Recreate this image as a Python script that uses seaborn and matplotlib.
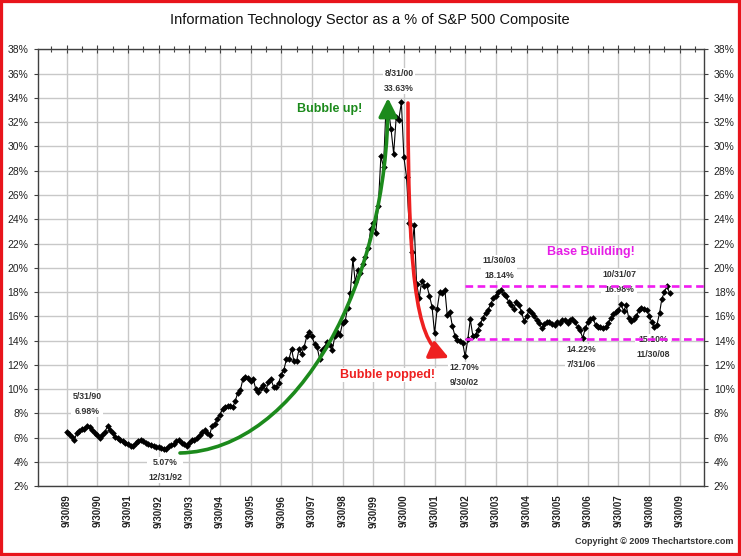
import pandas as pd
import matplotlib.pyplot as plt
import matplotlib.dates as mdates
from matplotlib.patches import FancyArrowPatch, Rectangle
from matplotlib.path import Path
import seaborn as sns

# IT sector weight in the S&P 500 (%), month ends from 9/30/89 to 5/31/09
it_weight = [
    6.5, 6.3, 6.05, 5.85, 6.4, 6.55, 6.7, 6.75, 6.98, 6.85, 6.6, 6.4,
    6.2, 5.95, 6.25, 6.5, 6.95, 6.6, 6.4, 6.05, 5.95, 5.85, 5.7, 5.6,
    5.45, 5.3, 5.35, 5.55, 5.75, 5.85, 5.7, 5.55, 5.45, 5.4, 5.35, 5.25,
    5.2, 5.15, 5.1, 5.07, 5.3, 5.4, 5.5, 5.7, 5.8, 5.6, 5.5, 5.35,
    5.55, 5.8, 5.85, 5.95, 6.2, 6.5, 6.6, 6.35, 6.25, 7.0, 7.1, 7.55,
    7.9, 8.35, 8.55, 8.6, 8.65, 8.5, 9.0, 9.7, 9.9, 10.8, 11.0, 10.9,
    10.65, 10.85, 10.05, 9.75, 10.1, 10.35, 9.9, 10.6, 10.8, 10.2, 10.2, 10.55,
    11.2, 11.6, 12.45, 12.5, 13.3, 12.3, 12.3, 13.3, 12.9, 13.5, 14.35, 14.7,
    14.35, 13.75, 13.5, 12.5, 13.25, 13.5, 13.85, 13.6, 13.25, 14.35, 14.75, 14.5,
    15.45, 15.6, 16.7, 17.9, 20.7, 18.85, 19.8, 19.55, 20.3, 20.9, 21.6, 23.2,
    23.7, 22.9, 25.1, 29.2, 28.3, 33.1, 33.0, 31.4, 29.4, 32.4, 32.2, 33.63,
    29.1, 27.5, 23.7, 21.3, 23.5, 18.7, 17.5, 18.9, 18.5, 18.55, 17.7, 16.8,
    14.6, 16.6, 18.0, 17.9, 18.2, 16.1, 16.4, 15.2, 14.4, 14.05, 13.95, 13.8,
    12.70, 14.1, 15.75, 14.35, 14.5, 14.9, 15.4, 15.9, 16.3, 16.55, 17.0, 17.5,
    17.7, 18.0, 18.14, 17.85, 17.65, 17.2, 16.9, 16.6, 17.2, 16.95, 16.4, 15.6,
    16.0, 16.5, 16.3, 16.0, 15.7, 15.45, 15.0, 15.4, 15.55, 15.5, 15.35, 15.3,
    15.55, 15.45, 15.7, 15.7, 15.45, 15.7, 15.75, 15.55, 15.15, 14.85, 14.22, 15.0,
    15.5, 15.75, 15.85, 15.3, 15.15, 15.1, 15.0, 15.15, 15.45, 15.85, 16.2, 16.35,
    16.5, 16.98, 16.45, 16.9, 15.85, 15.65, 15.75, 16.0, 16.5, 16.65, 16.6, 16.55,
    16.0, 15.55, 15.10, 15.3, 16.25, 17.45, 18.0, 18.5, 17.9,
]
first_month = '1989-09-30'

x_tick_labels = ['9/30/89', '9/30/90', '9/30/91', '9/30/92', '9/30/93', '9/30/94',
                 '9/30/95', '9/30/96', '9/30/97', '9/30/98', '9/30/99', '9/30/00',
                 '9/30/01', '9/30/02', '9/30/03', '9/30/04', '9/30/05', '9/30/06',
                 '9/30/07', '9/30/08', '9/30/09']
y_ticks = [2, 4, 6, 8, 10, 12, 14, 16, 18, 20, 22, 24, 26, 28, 30, 32, 34, 36, 38]

# "Base Building" band
band_start = '2002-09-30'
band_levels = [18.5, 14.1]

# Labelled turning points
note_texts = ['5/31/90\n6.98%', '5.07%\n12/31/92', '8/31/00\n33.63%', '12.70%\n9/30/02',
              '11/30/03\n18.14%', '14.22%\n7/31/06', '10/31/07\n16.98%', '15.10%\n11/30/08']
note_pos = [(87, 404), (165, 470), (399, 81), (464, 375),
            (499, 268), (581, 357), (619, 282), (653, 347)]

W, H = 741, 556


def fx(x):
    return x / W


def fy(y):
    return 1 - y / H


sns.set_style('white')
plt.rcParams['font.family'] = ['Liberation Sans', 'DejaVu Sans']

fig = plt.figure(figsize=(W / 100, H / 100), dpi=100)
ax = fig.add_axes([fx(38), fy(486.3), (704 - 38) / W, 437 / H])

df = pd.DataFrame({'fecha': pd.date_range(first_month, periods=len(it_weight), freq='ME'),
                   'peso': it_weight})
sns.lineplot(data=df, x='fecha', y='peso', ax=ax, color='black', linewidth=0.8,
             marker='D', markersize=3.4, markeredgewidth=0, zorder=3)

# ejes
tick_dates = pd.to_datetime(x_tick_labels, format='%m/%d/%y')
minor_dates = pd.to_datetime(['%d-03-31' % y for y in range(1989, 2011)])
ax.set_xticks(mdates.date2num(tick_dates))
ax.set_xticklabels(x_tick_labels, rotation=90, fontsize=7, fontweight='bold', color='#222222')
ax.set_xticks(mdates.date2num(minor_dates), minor=True)
ax.set_xlim(pd.Timestamp('1988-10-24'), pd.Timestamp('2010-07-15'))

ax.set_ylim(2, 38)
ax.set_yticks(y_ticks)
ax.set_yticklabels(['%d%%' % v for v in y_ticks], fontsize=7.5, color='#222222')
ax.set_xlabel('')
ax.set_ylabel('')

ax.grid(True, which='major', color='#c8c8c8', linewidth=1)
ax.set_axisbelow(True)
for s in ax.spines.values():
    s.set_color('#404040')
    s.set_linewidth(1)
ax.tick_params(axis='x', which='major', top=True, direction='inout', length=6, width=0.8,
               color='#404040', pad=3)
ax.tick_params(axis='x', which='minor', top=True, direction='inout', length=4, width=0.8,
               color='#404040')
ax.tick_params(axis='y', which='major', left=True, right=True, labelright=True,
               direction='out', length=3, width=0.8, color='#404040', pad=4)

# etiquetas de puntos (debajo de la banda)
for txt, (x, y) in zip(note_texts, note_pos):
    ax.text(fx(x), fy(y), txt, transform=fig.transFigure, ha='center', va='center',
            fontsize=6.3, fontweight='bold', color='#333333', linespacing=1.75, zorder=5,
            bbox=dict(facecolor='white', edgecolor='none', pad=1))

# banda de consolidación
for lvl in band_levels:
    ax.hlines(lvl, pd.Timestamp(band_start), pd.Timestamp('2010-07-15'),
              colors='#f01cf0', linewidth=1.9, linestyles=(0, (2.9, 1.7)), zorder=6)

fig.text(fx(330), fy(109), 'Bubble up!', ha='center', va='center', fontsize=9,
         fontweight='bold', color='#1c8a1c')
fig.text(fx(388), fy(375), 'Bubble popped!', ha='center', va='center', fontsize=9,
         fontweight='bold', color='#ee2020',
         bbox=dict(facecolor='white', edgecolor='none', pad=1))
fig.text(fx(591), fy(252), 'Base Building!', ha='center', va='center', fontsize=9,
         fontweight='bold', color='#e61ee6')


# flechas curvas
def curva(puntos):
    verts = [(fx(x), fy(y)) for x, y in puntos]
    return Path(verts, [Path.MOVETO, Path.CURVE4, Path.CURVE4, Path.CURVE4])


verde = FancyArrowPatch(path=curva([(180, 453), (300, 450), (388, 280), (388, 98)]),
                        arrowstyle='-|>,head_length=0.7,head_width=0.35', mutation_scale=16,
                        color='#1c8a1c', linewidth=2.6, transform=fig.transFigure)
rojo = FancyArrowPatch(path=curva([(408, 103), (408, 300), (420, 345), (449, 358)]),
                       arrowstyle='-|>,head_length=0.7,head_width=0.35', mutation_scale=16,
                       color='#ee2020', linewidth=2.6, transform=fig.transFigure)
fig.add_artist(verde)
fig.add_artist(rojo)

fig.text(fx(370), fy(20), 'Information Technology Sector as a % of S&P 500 Composite',
         ha='center', va='center', fontsize=10.5, color='#111111')
fig.text(fx(733), fy(542), 'Copyright \u00a9 2009 Thechartstore.com', ha='right', va='center',
         fontsize=6.5, fontweight='bold', color='#333333')

fig.add_artist(Rectangle((0, 0), 1, 1, transform=fig.transFigure, fill=False,
                         edgecolor='#e8141b', linewidth=4.5))

fig.savefig('out.png', dpi=100)
